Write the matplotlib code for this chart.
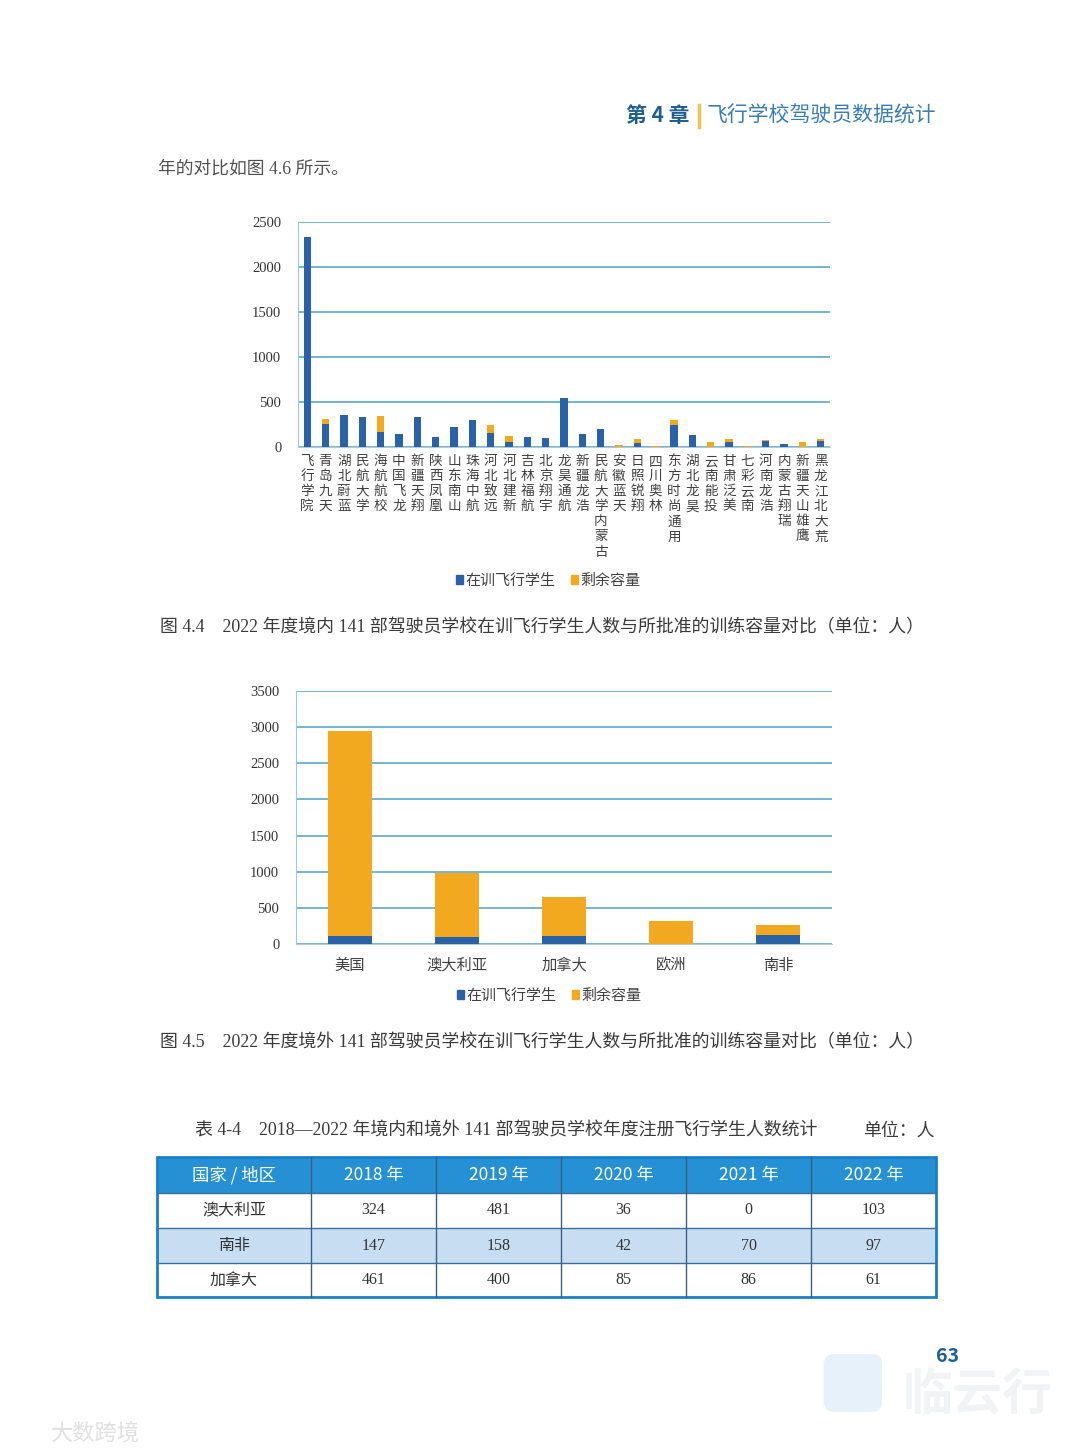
import matplotlib
matplotlib.use("Agg")
import matplotlib.pyplot as plt
from matplotlib.patches import Patch, Rectangle, FancyBboxPatch
import numpy as np

plt.rcParams['font.family'] = ['Noto Sans CJK SC', 'DejaVu Sans']

# ---------------- data ----------------
schools = ['飞行学院', '青岛九天', '湖北蔚蓝', '民航大学', '海航航校', '中国飞龙', '新疆天翔',
           '陕西凤凰', '山东南山', '珠海中航', '河北致远', '河北建新', '吉林福航', '北京翔宇',
           '龙昊通航', '新疆龙浩', '民航大学内蒙古', '安徽蓝天', '日照锐翔', '四川奥林',
           '东方时尚通用', '湖北龙昊', '云南能投', '甘肃泛美', '七彩云南', '河南龙浩',
           '内蒙古翔瑞', '新疆天山雄鹰', '黑龙江北大荒']
dom_students = [2330, 255, 355, 332, 164, 145, 328, 116, 224, 298, 153, 60, 116, 97,
                548, 145, 201, 3, 48, 2, 242, 130, 5, 60, 2, 72, 34, 5, 63]
dom_remaining = [0, 60, 0, 0, 176, 0, 0, 0, 0, 0, 86, 63, 0, 0,
                 0, 0, 0, 20, 42, 8, 60, 0, 45, 30, 8, 8, 0, 55, 25]
dom_yticks = [0, 500, 1000, 1500, 2000, 2500]

regions = ['美国', '澳大利亚', '加拿大', '欧洲', '南非']
abr_students = [115, 92, 106, 0, 120]
abr_remaining = [2825, 889, 543, 318, 147]
abr_yticks = [0, 500, 1000, 1500, 2000, 2500, 3000, 3500]

legend_labels = ['在训飞行学生', '剩余容量']

table_header = ['国家 / 地区', '2018 年', '2019 年', '2020 年', '2021 年', '2022 年']
table_rows = ['澳大利亚', '南非', '加拿大']
reg_2018 = [324, 147, 461]
reg_2019 = [481, 158, 400]
reg_2020 = [36, 42, 85]
reg_2021 = [0, 70, 86]
reg_2022 = [103, 97, 61]

# ---------------- style ----------------
BLUE = '#2A62A8'
ORANGE = '#F2A91F'
GRID = '#6AAECB'
SPINE = '#9CC6DA'
TXT = '#404040'
SERIF_CJK = ['Liberation Serif', 'Noto Sans CJK SC']

W, H = 1080, 1455
fig = plt.figure(figsize=(W / 100, H / 100), dpi=100)
fig.patch.set_facecolor('white')


def ax_rect(x0, y0, x1, y1):
    return [x0 / W, 1 - y1 / H, (x1 - x0) / W, (y1 - y0) / H]


def style_axes(ax, yticks):
    ax.set_ylim(yticks[0], yticks[-1])
    ax.set_yticks(yticks)
    ax.set_yticklabels([str(v) for v in yticks], family='Liberation Serif',
                       fontsize=10.5, color='#333333')
    ax.yaxis.grid(True, color=GRID, linewidth=1.3)
    ax.set_axisbelow(True)
    for s in ['top', 'right']:
        ax.spines[s].set_visible(False)
    ax.spines['left'].set_color(SPINE)
    ax.spines['bottom'].set_color('#B8C8D0')
    ax.tick_params(axis='both', length=0)
    ax.tick_params(axis='y', pad=12)


# ---------------- chart 1 ----------------
ax1 = fig.add_axes(ax_rect(298, 222, 830, 447))
x1 = np.arange(len(schools))
ax1.bar(x1, dom_students, width=0.4, color=BLUE, zorder=3)
ax1.bar(x1, dom_remaining, width=0.4, bottom=dom_students, color=ORANGE, zorder=3)
ax1.set_xlim(-0.5, len(schools) - 0.5)
style_axes(ax1, dom_yticks)
ax1.set_xticks(x1)
ax1.set_xticklabels(['\n'.join(s) for s in schools], fontsize=9.8, color=TXT,
                    linespacing=1.1, va='top')
ax1.tick_params(axis='x', pad=5)

handles = [Patch(color=BLUE), Patch(color=ORANGE)]
fig.legend(handles, legend_labels, loc='center', bbox_to_anchor=(548 / W, 1 - 581 / H),
           ncol=2, frameon=False, fontsize=10.8, handlelength=0.5, handleheight=0.5,
           handletextpad=0.15, columnspacing=1.0, labelcolor=TXT)

# ---------------- chart 2 ----------------
ax2 = fig.add_axes(ax_rect(296, 691, 832, 944))
x2 = np.arange(len(regions))
ax2.bar(x2, abr_students, width=0.41, color=BLUE, zorder=3)
ax2.bar(x2, abr_remaining, width=0.41, bottom=abr_students, color=ORANGE, zorder=3)
ax2.set_xlim(-0.5, len(regions) - 0.5)
style_axes(ax2, abr_yticks)
ax2.set_xticks(x2)
ax2.set_xticklabels(regions, fontsize=11, color=TXT)
ax2.tick_params(axis='x', pad=9)

fig.legend(handles, legend_labels, loc='center', bbox_to_anchor=(549 / W, 1 - 996 / H),
           ncol=2, frameon=False, fontsize=10.8, handlelength=0.5, handleheight=0.5,
           handletextpad=0.15, columnspacing=1.0, labelcolor=TXT)

# ---------------- page overlay ----------------
pg = fig.add_axes([0, 0, 1, 1], zorder=-1)
pg.set_xlim(0, W)
pg.set_ylim(H, 0)
pg.axis('off')

pg2 = fig.add_axes([0, 0, 1, 1], zorder=5)
pg2.set_xlim(0, W)
pg2.set_ylim(H, 0)
pg2.axis('off')
pg2.patch.set_alpha(0)

# header
pg2.text(626, 116, '第 4 章', fontsize=15, fontweight='bold', color='#1F5F92',
         va='center', ha='left')
pg2.plot([699, 699], [105, 127], color='#F2C14E', lw=2.5)
pg2.text(707, 116, '飞行学校驾驶员数据统计', fontsize=15, color='#3A7DB3',
         va='center', ha='left')

pg2.text(158, 169, '年的对比如图 4.6 所示。', fontsize=12.8, color='#505050',
         va='center', ha='left', family=SERIF_CJK)

cap_fs = 12.9
pg2.text(160, 628, '图 4.4    2022 年度境内 141 部驾驶员学校在训飞行学生人数与所批准的训练容量对比（单位：人）',
         fontsize=cap_fs, color='#3a3a3a', va='center', ha='left', family=SERIF_CJK)
pg2.text(160, 1043, '图 4.5    2022 年度境外 141 部驾驶员学校在训飞行学生人数与所批准的训练容量对比（单位：人）',
         fontsize=cap_fs, color='#3a3a3a', va='center', ha='left', family=SERIF_CJK)
pg2.text(195, 1131, '表 4-4    2018—2022 年境内和境外 141 部驾驶员学校年度注册飞行学生人数统计',
         fontsize=cap_fs, color='#3a3a3a', va='center', ha='left', family=SERIF_CJK)
pg2.text(935, 1131, '单位：人', fontsize=cap_fs, color='#3a3a3a', va='center', ha='right',
         family=SERIF_CJK)

# table
col_x = [157, 311, 436, 561, 686, 811, 936]
row_y = [1157, 1193, 1228, 1263, 1297]
pg2.add_patch(Rectangle((col_x[0], row_y[0]), col_x[-1] - col_x[0], row_y[1] - row_y[0],
                        facecolor='#2590D3', edgecolor='none'))
pg2.add_patch(Rectangle((col_x[0], row_y[2]), col_x[-1] - col_x[0], row_y[3] - row_y[2],
                        facecolor='#C7DEF2', edgecolor='none'))
for j, h in enumerate(table_header):
    pg2.text((col_x[j] + col_x[j + 1]) / 2, (row_y[0] + row_y[1]) / 2, h,
             fontsize=12.5, color='white', ha='center', va='center')
table_vals = [reg_2018, reg_2019, reg_2020, reg_2021, reg_2022]
for i, name in enumerate(table_rows):
    yc = (row_y[i + 1] + row_y[i + 2]) / 2
    pg2.text((col_x[0] + col_x[1]) / 2, yc, name, fontsize=11.5, color='#333333',
             ha='center', va='center')
    for j, vals in enumerate(table_vals):
        pg2.text((col_x[j + 1] + col_x[j + 2]) / 2, yc, str(vals[i]), fontsize=11.5,
                 color='#333333', ha='center', va='center', family='Liberation Serif')
# inner lines
for y in row_y[1:-1]:
    pg2.plot([col_x[0], col_x[-1]], [y, y], color='#3A6F9E', lw=1.0)
for x in col_x[1:-1]:
    pg2.plot([x, x], [row_y[0], row_y[-1]], color='#3A5F80', lw=1.0)
pg2.add_patch(Rectangle((col_x[0], row_y[0]), col_x[-1] - col_x[0], row_y[-1] - row_y[0],
                        facecolor='none', edgecolor='#1A80C8', lw=2.0))

# page number and watermarks
pg.add_patch(FancyBboxPatch((824, 1354), 58, 58, boxstyle='round,pad=0,rounding_size=10',
                            facecolor='#E6F1FA', edgecolor='none'))
pg.text(978, 1396, '临云行', fontsize=36, color='#F1F3F5', ha='center', va='center',
        fontweight='bold')
pg2.text(948, 1357, '63', fontsize=14, fontweight='bold', color='#1F5F92',
         ha='center', va='center')
pg2.text(95, 1434, '大数跨境', fontsize=16, color='#E0E0E0', ha='center', va='center')

fig.savefig('out.png', dpi=100, facecolor='white')
